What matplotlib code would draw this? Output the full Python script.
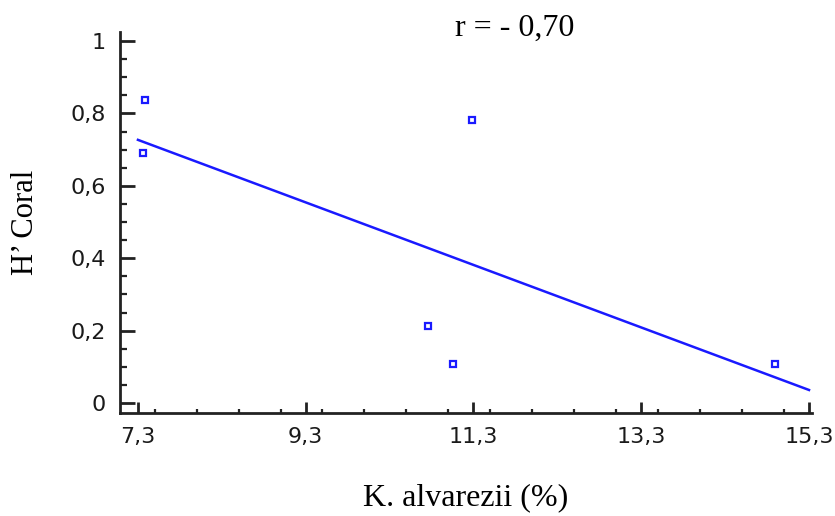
import numpy as np
import matplotlib.pyplot as plt
from matplotlib.ticker import MultipleLocator

# data
x = np.array([7.39, 7.36, 11.28, 10.76, 11.05, 14.90])
y = np.array([0.837, 0.690, 0.782, 0.213, 0.108, 0.108])

# fitted line ends
fit_x = np.array([7.3, 15.3])
fit_y = np.array([0.727, 0.036])

x_ticks = [7.3, 9.3, 11.3, 13.3, 15.3]
x_labels = ["7,3", "9,3", "11,3", "13,3", "15,3"]
y_ticks = [0, 0.2, 0.4, 0.6, 0.8, 1]
y_labels = ["0", "0,2", "0,4", "0,6", "0,8", "1"]

blue = "#1a1aff"
serif = "Liberation Serif"

fig = plt.figure(figsize=(8.35, 5.16), dpi=100)
ax = fig.add_axes([0.1437, 0.1996, 0.8288, 0.7384])

ax.plot(fit_x, fit_y, color=blue, lw=1.8)
ax.plot(x, y, ls="none", marker="s", ms=5, mfc="white", mec=blue, mew=1.6)

ax.set_xlim(7.086, 15.336)
ax.set_ylim(-0.0276, 1.025)

ax.spines["top"].set_visible(False)
ax.spines["right"].set_visible(False)
for s in ("left", "bottom"):
    ax.spines[s].set_linewidth(2)
    ax.spines[s].set_color("#222222")

ax.set_xticks(x_ticks)
ax.set_xticklabels(x_labels)
ax.set_yticks(y_ticks)
ax.set_yticklabels(y_labels)
ax.xaxis.set_minor_locator(MultipleLocator(0.5))
ax.yaxis.set_minor_locator(MultipleLocator(0.05))
ax.tick_params(which="major", direction="in", length=11, width=2, color="#222222",
               labelsize=16, pad=10)
ax.tick_params(which="minor", direction="in", length=5, width=1.6, color="#222222")
ax.tick_params(axis="x", which="major", length=8)
ax.tick_params(axis="x", which="minor", length=3)
for lab in ax.get_xticklabels() + ax.get_yticklabels():
    lab.set_color("#1a1a1a")

ax.set_xlabel("K. alvarezii (%)", fontfamily=serif, fontsize=23, labelpad=26)
ax.set_ylabel("H’ Coral", fontfamily=serif, fontsize=22, labelpad=22)
fig.text(0.545, 0.945, "r = - 0,70", fontfamily=serif, fontsize=23, ha="left", va="center")

fig.savefig("out.png", dpi=100)
